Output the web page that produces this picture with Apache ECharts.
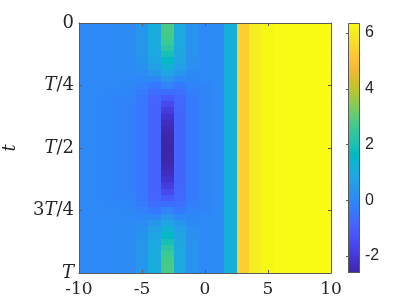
<!DOCTYPE html>
<html><head><meta charset="utf-8">
<script src="https://cdn.jsdelivr.net/npm/echarts@6/dist/echarts.min.js"></script>
<style>html,body{margin:0;padding:0;background:#fff}#c{width:409px;height:307px}</style>
</head><body><div id="c"></div>
<script>
// x positions of the columns
const xValues = [-10,-9,-8,-7,-6,-5,-4,-3,-2,-1,0,1,2,3,4,5,6,7,8,9,10];
// time samples (fraction of T)
const tValues = [0,0.025,0.05,0.075,0.1,0.125,0.15,0.175,0.2,0.225,0.25,0.275,0.3,0.325,0.35,0.375,0.4,0.425,0.45,0.475,0.5,
  0.525,0.55,0.575,0.6,0.625,0.65,0.675,0.7,0.725,0.75,0.775,0.8,0.825,0.85,0.875,0.9,0.925,0.95,0.975,1];
const xTickValues = [-10,-5,0,5,10];
const xTickLabels = ['-10','-5','0','5','10'];
const yTickValues = [0,0.25,0.5,0.75,1];
const yTickLabels = ['0','T/4','T/2','3T/4','T'];
const cbarTicks = [-2,0,2,4,6];
const cbarLabels = ['-2','0','2','4','6'];
const colorRange = [-2.61, 6.36];
// values[row = time][col = x]
const values = [
 [0,0,0,0.05,0.1,0.35,1.05,2.75,0.95,0.25,0,0.05,1.15,5.35,6.05,6.3,6.34,6.36,6.36,6.36,6.36],
 [0,0,0,0.05,0.1,0.35,1.05,2.75,0.95,0.25,0,0.05,1.15,5.35,6.05,6.3,6.34,6.36,6.36,6.36,6.36],
 [0,0,0,0.05,0.1,0.35,1.05,2.7,0.95,0.25,0,0.05,1.15,5.35,6.05,6.3,6.34,6.36,6.36,6.36,6.36],
 [0,0,0,0.05,0.1,0.35,1.05,2.55,0.95,0.25,0,0.05,1.15,5.35,6.05,6.3,6.34,6.36,6.36,6.36,6.36],
 [0,0,0,0.05,0.1,0.35,1.0,2.3,0.9,0.25,0,0.05,1.15,5.35,6.05,6.3,6.34,6.36,6.36,6.36,6.36],
 [0,0,0,0.05,0.1,0.33,0.95,1.95,0.85,0.23,0,0.05,1.15,5.35,6.05,6.3,6.34,6.36,6.36,6.36,6.36],
 [0,0,0,0.05,0.1,0.3,0.85,1.6,0.75,0.2,0,0.05,1.15,5.35,6.05,6.3,6.34,6.36,6.36,6.36,6.36],
 [0,0,0,0.05,0.08,0.22,0.7,1.25,0.6,0.15,0,0.05,1.15,5.35,6.05,6.3,6.34,6.36,6.36,6.36,6.36],
 [0,0,0,0.05,0.05,0.1,0.4,0.85,0.35,0.05,0,0.05,1.15,5.35,6.05,6.3,6.34,6.36,6.36,6.36,6.36],
 [0,0,0,0.02,0,-0.05,0,0.4,0,-0.05,0,0.05,1.15,5.35,6.05,6.3,6.34,6.36,6.36,6.36,6.36],
 [0,0,-0.02,0,-0.05,-0.2,-0.4,-0.1,-0.35,-0.15,-0.1,0.05,1.15,5.35,6.05,6.3,6.34,6.36,6.36,6.36,6.36],
 [0,0,-0.03,-0.05,-0.1,-0.32,-0.65,-0.65,-0.6,-0.25,-0.1,0,1.15,5.35,6.05,6.3,6.34,6.36,6.36,6.36,6.36],
 [0,0,-0.05,-0.1,-0.15,-0.4,-0.8,-1.15,-0.75,-0.3,-0.1,0,1.15,5.35,6.05,6.3,6.34,6.36,6.36,6.36,6.36],
 [0,0,-0.05,-0.1,-0.2,-0.45,-0.85,-1.55,-0.8,-0.35,-0.1,0,1.15,5.35,6.05,6.3,6.34,6.36,6.36,6.36,6.36],
 [0,0,-0.05,-0.1,-0.2,-0.45,-0.9,-1.9,-0.85,-0.35,-0.1,0,1.15,5.35,6.05,6.3,6.34,6.36,6.36,6.36,6.36],
 [0,0,-0.05,-0.1,-0.2,-0.45,-0.9,-2.15,-0.85,-0.35,-0.1,0,1.15,5.35,6.05,6.3,6.34,6.36,6.36,6.36,6.36],
 [0,0,-0.05,-0.1,-0.2,-0.45,-0.9,-2.35,-0.85,-0.35,-0.1,0,1.15,5.35,6.05,6.3,6.34,6.36,6.36,6.36,6.36],
 [0,0,-0.05,-0.1,-0.2,-0.45,-0.9,-2.48,-0.85,-0.35,-0.1,0,1.15,5.35,6.05,6.3,6.34,6.36,6.36,6.36,6.36],
 [0,0,-0.05,-0.1,-0.2,-0.45,-0.9,-2.56,-0.85,-0.35,-0.1,0,1.15,5.35,6.05,6.3,6.34,6.36,6.36,6.36,6.36],
 [0,0,-0.05,-0.1,-0.2,-0.45,-0.9,-2.6,-0.85,-0.35,-0.1,0,1.15,5.35,6.05,6.3,6.34,6.36,6.36,6.36,6.36],
 [0,0,-0.05,-0.1,-0.2,-0.45,-0.9,-2.61,-0.85,-0.35,-0.1,0,1.15,5.35,6.05,6.3,6.34,6.36,6.36,6.36,6.36],
 [0,0,-0.05,-0.1,-0.2,-0.45,-0.9,-2.6,-0.85,-0.35,-0.1,0,1.15,5.35,6.05,6.3,6.34,6.36,6.36,6.36,6.36],
 [0,0,-0.05,-0.1,-0.2,-0.45,-0.9,-2.56,-0.85,-0.35,-0.1,0,1.15,5.35,6.05,6.3,6.34,6.36,6.36,6.36,6.36],
 [0,0,-0.05,-0.1,-0.2,-0.45,-0.9,-2.48,-0.85,-0.35,-0.1,0,1.15,5.35,6.05,6.3,6.34,6.36,6.36,6.36,6.36],
 [0,0,-0.05,-0.1,-0.2,-0.45,-0.9,-2.35,-0.85,-0.35,-0.1,0,1.15,5.35,6.05,6.3,6.34,6.36,6.36,6.36,6.36],
 [0,0,-0.05,-0.1,-0.2,-0.45,-0.9,-2.15,-0.85,-0.35,-0.1,0,1.15,5.35,6.05,6.3,6.34,6.36,6.36,6.36,6.36],
 [0,0,-0.05,-0.1,-0.2,-0.45,-0.9,-1.9,-0.85,-0.35,-0.1,0,1.15,5.35,6.05,6.3,6.34,6.36,6.36,6.36,6.36],
 [0,0,-0.05,-0.1,-0.2,-0.45,-0.85,-1.55,-0.8,-0.35,-0.1,0,1.15,5.35,6.05,6.3,6.34,6.36,6.36,6.36,6.36],
 [0,0,-0.05,-0.1,-0.15,-0.4,-0.8,-1.15,-0.75,-0.3,-0.1,0,1.15,5.35,6.05,6.3,6.34,6.36,6.36,6.36,6.36],
 [0,0,-0.03,-0.05,-0.1,-0.32,-0.65,-0.65,-0.6,-0.25,-0.1,0,1.15,5.35,6.05,6.3,6.34,6.36,6.36,6.36,6.36],
 [0,0,-0.02,0,-0.05,-0.2,-0.4,-0.1,-0.35,-0.15,-0.1,0.05,1.15,5.35,6.05,6.3,6.34,6.36,6.36,6.36,6.36],
 [0,0,0,0.02,0,-0.05,0,0.4,0,-0.05,0,0.05,1.15,5.35,6.05,6.3,6.34,6.36,6.36,6.36,6.36],
 [0,0,0,0.05,0.05,0.1,0.4,0.85,0.35,0.05,0,0.05,1.15,5.35,6.05,6.3,6.34,6.36,6.36,6.36,6.36],
 [0,0,0,0.05,0.08,0.22,0.7,1.25,0.6,0.15,0,0.05,1.15,5.35,6.05,6.3,6.34,6.36,6.36,6.36,6.36],
 [0,0,0,0.05,0.1,0.3,0.85,1.6,0.75,0.2,0,0.05,1.15,5.35,6.05,6.3,6.34,6.36,6.36,6.36,6.36],
 [0,0,0,0.05,0.1,0.33,0.95,1.95,0.85,0.23,0,0.05,1.15,5.35,6.05,6.3,6.34,6.36,6.36,6.36,6.36],
 [0,0,0,0.05,0.1,0.35,1.0,2.3,0.9,0.25,0,0.05,1.15,5.35,6.05,6.3,6.34,6.36,6.36,6.36,6.36],
 [0,0,0,0.05,0.1,0.35,1.05,2.55,0.95,0.25,0,0.05,1.15,5.35,6.05,6.3,6.34,6.36,6.36,6.36,6.36],
 [0,0,0,0.05,0.1,0.35,1.05,2.7,0.95,0.25,0,0.05,1.15,5.35,6.05,6.3,6.34,6.36,6.36,6.36,6.36],
 [0,0,0,0.05,0.1,0.35,1.05,2.75,0.95,0.25,0,0.05,1.15,5.35,6.05,6.3,6.34,6.36,6.36,6.36,6.36],
 [0,0,0,0.05,0.1,0.35,1.05,2.75,0.95,0.25,0,0.05,1.15,5.35,6.05,6.3,6.34,6.36,6.36,6.36,6.36]
];
const parula = ['#3e26a8','#4332cb','#4741e5','#4852f4','#4563fd','#3875fe','#2e87f7','#2796eb','#20a5e3','#12b1d6','#02bac3',
  '#24c1ae','#37c897','#57cc7a','#81cc59','#abc739','#d1bf27','#f0ba36','#fec338','#fad62d','#f5e924','#f9fb15'];

const cells = [];
values.forEach((row, i) => row.forEach((v, j) => cells.push([xValues[j], tValues[i], v])));
const dx = xValues[1] - xValues[0];
const dt = tValues[1] - tValues[0];

const axisColor = '#5a5a5a';
const textColor = '#262626';
const serif = 'DejaVu Serif';

function renderCell(params, api) {
  const x = api.value(0), t = api.value(1);
  const p0 = api.coord([x - dx / 2, t - dt / 2]);
  const p1 = api.coord([x + dx / 2, t + dt / 2]);
  const x0 = Math.round(Math.min(p0[0], p1[0])), x1 = Math.round(Math.max(p0[0], p1[0]));
  const y0 = Math.round(Math.min(p0[1], p1[1])), y1 = Math.round(Math.max(p0[1], p1[1]));
  const cs = params.coordSys;
  const r = echarts.graphic.clipRectByRect({x: x0, y: y0, width: x1 - x0, height: y1 - y0},
    {x: cs.x, y: cs.y, width: cs.width, height: cs.height});
  if (!r) return null;
  return {type: 'rect', shape: r, style: {fill: api.visual('color')}};
}

function renderBar(params, api) {
  const cs = params.coordSys;
  const stops = parula.map((c, i) => ({offset: i / (parula.length - 1), color: c}));
  return {type: 'group', children: [
    {type: 'rect', shape: {x: cs.x, y: cs.y, width: cs.width, height: cs.height},
      style: {fill: new echarts.graphic.LinearGradient(0, 1, 0, 0, stops)}},
    {type: 'rect', shape: {x: cs.x + 0.5, y: cs.y + 0.5, width: cs.width - 1, height: cs.height - 1},
      style: {fill: null, stroke: axisColor, lineWidth: 1}}
  ]};
}

const fmtY = v => {
  const k = yTickValues.indexOf(Math.round(v * 100) / 100);
  return k < 0 ? '' : yTickLabels[k].replace('T', '{i|T}');
};
const fmtX = v => { const k = xTickValues.indexOf(v); return k < 0 ? '' : xTickLabels[k]; };
const fmtC = v => { const k = cbarTicks.indexOf(v); return k < 0 ? '' : cbarLabels[k]; };

const chart = echarts.init(document.getElementById('c'), null, {renderer: 'canvas'});
chart.setOption({
  animation: false,
  backgroundColor: '#fff',
  grid: [
    {left: 79, top: 23, width: 252, height: 250, outerBoundsMode: 'none', containLabel: false},
    {left: 348, top: 23, width: 12, height: 250, outerBoundsMode: 'none', containLabel: false}
  ],
  xAxis: [
    {gridIndex: 0, type: 'value', min: -10, max: 10, interval: 5, position: 'bottom', z: 5,
      axisLine: {onZero: false, lineStyle: {color: axisColor}}, axisTick: {inside: true, length: 3, lineStyle: {color: axisColor}},
      splitLine: {show: false},
      axisLabel: {formatter: fmtX, color: textColor, fontFamily: serif, fontSize: 17, margin: 8}},
    {gridIndex: 0, type: 'value', min: -10, max: 10, interval: 5, position: 'top', z: 5,
      axisLine: {onZero: false, lineStyle: {color: axisColor}}, axisTick: {inside: true, length: 3, lineStyle: {color: axisColor}},
      splitLine: {show: false}, axisLabel: {show: false}},
    {gridIndex: 1, type: 'value', min: 0, max: 1, show: false}
  ],
  yAxis: [
    {gridIndex: 0, type: 'value', min: 0, max: 1, interval: 0.25, inverse: true, position: 'left', z: 5,
      name: 't', nameLocation: 'middle', nameGap: 60, nameRotate: 90,
      nameTextStyle: {fontFamily: serif, fontStyle: 'italic', fontSize: 18, color: textColor},
      axisLine: {onZero: false, lineStyle: {color: axisColor}}, axisTick: {inside: true, length: 3, lineStyle: {color: axisColor}},
      splitLine: {show: false},
      axisLabel: {formatter: fmtY, color: textColor, fontFamily: serif, fontSize: 18, margin: 5,
        rich: {i: {fontFamily: serif, fontStyle: 'italic', fontSize: 18, color: textColor}}}},
    {gridIndex: 0, type: 'value', min: 0, max: 1, interval: 0.25, inverse: true, position: 'right', z: 5,
      axisLine: {onZero: false, lineStyle: {color: axisColor}}, axisTick: {inside: true, length: 3, lineStyle: {color: axisColor}},
      splitLine: {show: false}, axisLabel: {show: false}},
    {gridIndex: 1, type: 'value', min: colorRange[0], max: colorRange[1], position: 'right', z: 5,
      axisLine: {show: false}, splitLine: {show: false},
      axisTick: {inside: true, length: 2, customValues: cbarTicks, lineStyle: {color: axisColor}},
      axisLabel: {customValues: cbarTicks, formatter: fmtC, color: textColor, fontFamily: 'Liberation Sans', fontSize: 16, margin: 5}}
  ],
  visualMap: {show: false, type: 'continuous', min: colorRange[0], max: colorRange[1], dimension: 2, seriesIndex: 0,
    inRange: {color: parula}},
  series: [
    {type: 'custom', xAxisIndex: 0, yAxisIndex: 0, renderItem: renderCell, data: cells, encode: {x: 0, y: 1}, z: 1},
    {type: 'custom', xAxisIndex: 2, yAxisIndex: 2, renderItem: renderBar, data: [[0.5, 0]], encode: {x: 0, y: 1}, z: 1}
  ]
});
</script></body></html>
